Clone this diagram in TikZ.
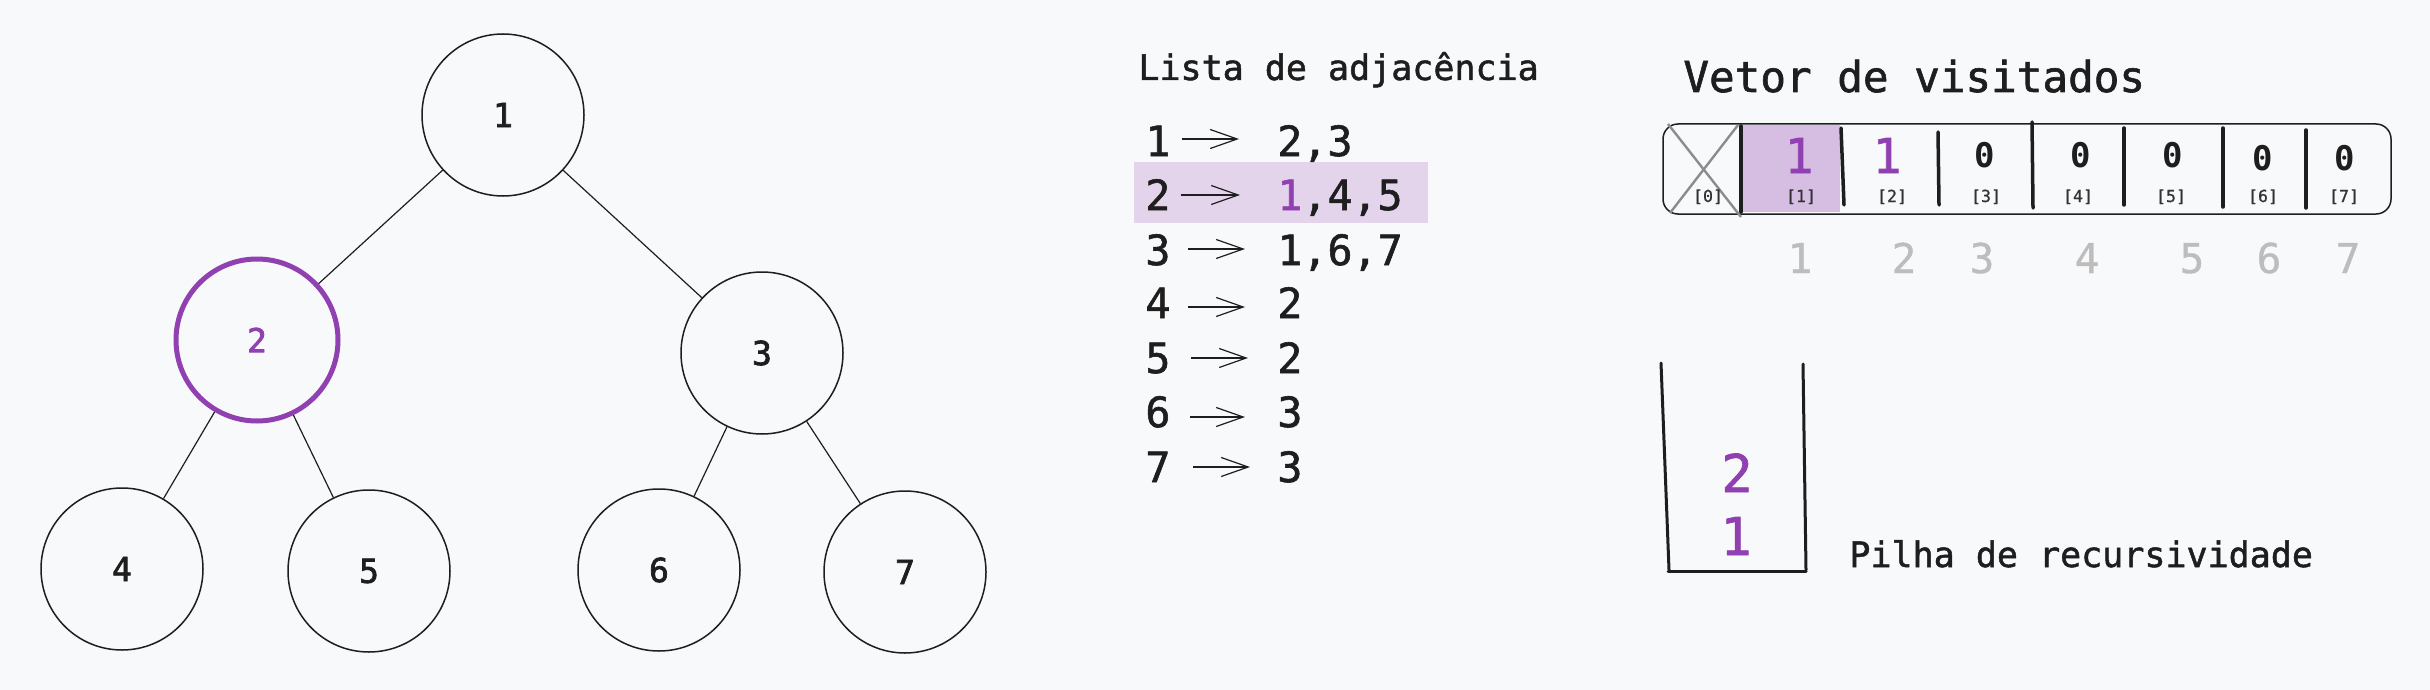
\documentclass[tikz,border=0pt]{standalone}
\usepackage{fontspec}
\setmonofont{DejaVu Sans Mono}
\newfontfamily\medmono[FakeBold=1.4]{DejaVu Sans Mono}
\newfontfamily\heavymono[FakeBold=2.2]{DejaVu Sans Mono}
\newfontfamily\semimono[FakeBold=0.8]{DejaVu Sans Mono}
\usetikzlibrary{arrows.meta}
\definecolor{bg}{HTML}{F8F9FB}
\definecolor{ink}{HTML}{1E1E1E}
\definecolor{purp}{HTML}{9040B0}
\definecolor{hlA}{HTML}{E3D4EB}
\definecolor{hlB}{HTML}{D6BDE2}
\definecolor{crossgray}{HTML}{8C8C8C}
\definecolor{idxgray}{HTML}{BDBDBD}
\definecolor{idxink}{HTML}{333333}
\begin{document}
\begin{tikzpicture}[x=0.5pt,y=-0.5pt,
  treenode/.style={circle, draw=ink, line width=0.75pt, minimum size=81pt, inner sep=0pt,
    font=\fontsize{16.5}{18}\selectfont\heavymono, text=ink},
  visited/.style={treenode, draw=purp, line width=2.5pt, text=purp},
  edge/.style={draw=ink, line width=0.6pt},
  txt/.style={anchor=base west, inner sep=0pt, text=ink},
  heading/.style={txt, font=\fontsize{17.5}{20}\selectfont\medmono},
  bigheading/.style={txt, font=\fontsize{21.3}{24}\selectfont\medmono},
  listnum/.style={txt, font=\fontsize{20.8}{24}\selectfont\medmono},
  listarrow/.style={draw=ink, line width=0.6pt, -{Straight Barb[length=13.5pt,width=9.5pt]}},
  divider/.style={draw=ink, line width=1.75pt, line cap=round},
  zeroval/.style={anchor=base, inner sep=0pt, text=ink, font=\fontsize{17}{20}\selectfont\ttfamily\bfseries},
  oneval/.style={anchor=base, inner sep=0pt, text=purp, font=\fontsize{24}{26}\selectfont\medmono},
  idx/.style={anchor=base, inner sep=0pt, text=idxink, font=\fontsize{8.3}{10}\selectfont\semimono},
  grayidx/.style={anchor=base, inner sep=0pt, text=idxgray, font=\fontsize{20.5}{24}\selectfont\semimono},
  stackval/.style={anchor=base, inner sep=0pt, text=purp, font=\fontsize{26}{28}\selectfont\medmono},
  stackline/.style={draw=ink, line width=1.5pt, line cap=round}
]
\useasboundingbox (0,0) rectangle (2430,690);
\fill[bg] (0,0) rectangle (2430,690);

% ---------- tree ----------
\node[treenode] (n1) at (503,115) {1};
\node[visited]  (n2) at (257,340) {2};
\node[treenode] (n3) at (762,353) {3};
\node[treenode] (n4) at (122,569) {4};
\node[treenode] (n5) at (369,571) {5};
\node[treenode] (n6) at (659,570) {6};
\node[treenode] (n7) at (905,572) {7};
\draw[edge] (n1) -- (n2);
\draw[edge] (n1) -- (n3);
\draw[edge] (n2) -- (n4);
\draw[edge] (n2) -- (n5);
\draw[edge] (n3) -- (n6);
\draw[edge] (n3) -- (n7);

% ---------- adjacency list ----------
\fill[hlA] (1134,162) rectangle (1428,223);
\node[heading] (listtitle) at (1138,80) {Lista de adjacência};

\node[listnum] (k1) at (1145,156) {1};
\node[listnum] (v1) at (1277,156) {2,3};
\coordinate (a1s) at (1182,139); \coordinate (a1e) at (1239,139);
\draw[listarrow] (a1s) -- (a1e);

\node[listnum] (k2) at (1145,210) {2};
\node[listnum] (v2) at (1277,210) {\textcolor{purp}{1},4,5};
\coordinate (a2s) at (1181,195); \coordinate (a2e) at (1240,195);
\draw[listarrow] (a2s) -- (a2e);

\node[listnum] (k3) at (1145,265) {3};
\node[listnum] (v3) at (1277,265) {1,6,7};
\coordinate (a3s) at (1188,249); \coordinate (a3e) at (1245,249);
\draw[listarrow] (a3s) -- (a3e);

\node[listnum] (k4) at (1145,318) {4};
\node[listnum] (v4) at (1277,318) {2};
\coordinate (a4s) at (1188,307); \coordinate (a4e) at (1245,307);
\draw[listarrow] (a4s) -- (a4e);

\node[listnum] (k5) at (1145,373) {5};
\node[listnum] (v5) at (1277,373) {2};
\coordinate (a5s) at (1191,358); \coordinate (a5e) at (1248,358);
\draw[listarrow] (a5s) -- (a5e);

\node[listnum] (k6) at (1145,427) {6};
\node[listnum] (v6) at (1277,427) {3};
\coordinate (a6s) at (1190,417); \coordinate (a6e) at (1245,417);
\draw[listarrow] (a6s) -- (a6e);

\node[listnum] (k7) at (1145,482) {7};
\node[listnum] (v7) at (1277,482) {3};
\coordinate (a7s) at (1193,467); \coordinate (a7e) at (1250,467);
\draw[listarrow] (a7s) -- (a7e);

% ---------- visited vector ----------
\node[bigheading] (vtitle) at (1683,92) {Vetor de visitados};
\fill[hlB] (1743,125) rectangle (1840,212);
\draw[ink, line width=0.75pt, rounded corners=7.5pt] (1663,124) rectangle (2391,214);
\draw[crossgray, line width=1.2pt] (1668,124) -- (1741,217);
\draw[crossgray, line width=1.2pt] (1738,125) -- (1670,213);
\draw[divider] (1741,126) -- (1741,212);
\draw[divider] (1841,128) -- (1844,205);
\draw[divider] (1938,132) -- (1939,205);
\draw[divider] (2032,122) -- (2033,208);
\draw[divider] (2124,128) -- (2124,205);
\draw[divider] (2223,128) -- (2223,207);
\draw[divider] (2306,130) -- (2306,208);

\node[oneval]  (c1) at (1799,173) {1};
\node[oneval]  (c2) at (1887,173) {1};
\node[zeroval] (c3) at (1985,168) {0};
\node[zeroval] (c4) at (2081,168) {0};
\node[zeroval] (c5) at (2173,168) {0};
\node[zeroval] (c6) at (2263,170) {0};
\node[zeroval] (c7) at (2345,170) {0};

\node[idx] (i0) at (1708,202) {[0]};
\node[idx] (i1) at (1801,202) {[1]};
\node[idx] (i2) at (1892,202) {[2]};
\node[idx] (i3) at (1986,202) {[3]};
\node[idx] (i4) at (2078,202) {[4]};
\node[idx] (i5) at (2171,202) {[5]};
\node[idx] (i6) at (2263,202) {[6]};
\node[idx] (i7) at (2344,202) {[7]};

\node[grayidx] (g1) at (1800,273) {1};
\node[grayidx] (g2) at (1904,273) {2};
\node[grayidx] (g3) at (1982,273) {3};
\node[grayidx] (g4) at (2087,273) {4};
\node[grayidx] (g5) at (2192,273) {5};
\node[grayidx] (g6) at (2269,273) {6};
\node[grayidx] (g7) at (2348,273) {7};

% ---------- recursion stack ----------
\draw[stackline] (1661,363) -- (1669,570);
\draw[stackline] (1803,364) -- (1806,570);
\draw[stackline] (1668,571) -- (1806,571);
\node[stackval] (s2) at (1737,492) {2};
\node[stackval] (s1) at (1736,555) {1};
\node[heading] (stitle) at (1849,567) {Pilha de recursividade};
\end{tikzpicture}
\end{document}
